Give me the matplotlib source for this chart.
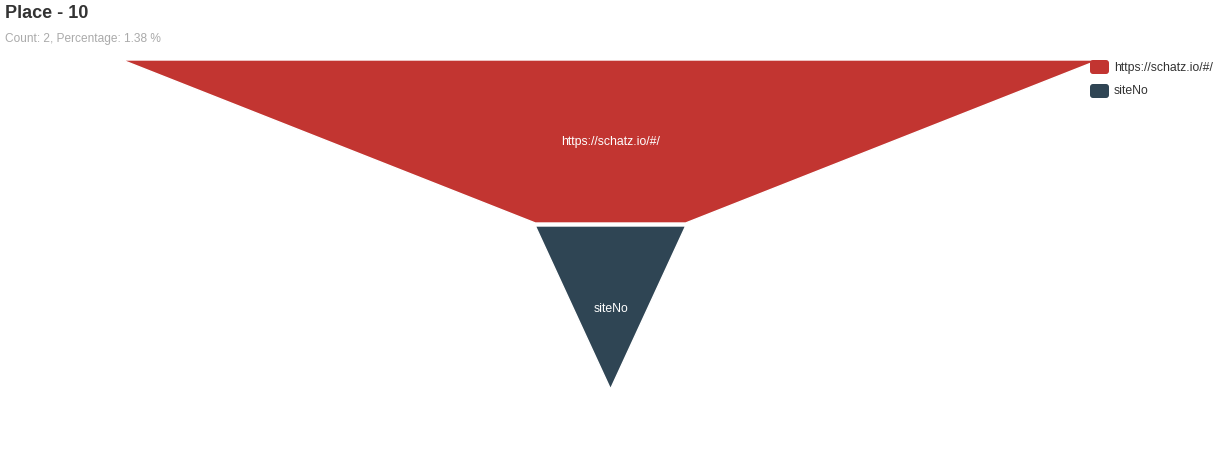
import matplotlib
matplotlib.use("Agg")
import matplotlib.pyplot as plt
from matplotlib.patches import Polygon, FancyBboxPatch

plt.rcParams['font.family'] = ['Liberation Sans', 'DejaVu Sans']

# data
names = ["https://schatz.io/#/", "siteNo"]
values = [13, 2]
colors = ["#c23531", "#2f4554"]
title = "Place - 10"
subtitle = "Count: 2, Percentage: 1.38 %"

W, H = 1221, 450
fig = plt.figure(figsize=(W / 100, H / 100), dpi=100)
ax = fig.add_axes([0, 0, 1, 1])
ax.set_xlim(0, W)
ax.set_ylim(H, 0)
ax.axis("off")

# funnel layout (pixel space, echarts-like)
cx = W / 2
top, bottom = 60, 389
max_w = 0.8 * W
gap = 3
item_h = (bottom - top - gap * (len(values) - 1)) / len(values)
vmax = max(values)

def width_of(i):
    if i >= len(values):
        return 0.0
    return values[i] / vmax * max_w

y = top
for i, (name, val, col) in enumerate(zip(names, values, colors)):
    w0 = width_of(i)
    w1 = width_of(i + 1)
    pts = [(cx - w0 / 2, y), (cx + w0 / 2, y),
           (cx + w1 / 2, y + item_h), (cx - w1 / 2, y + item_h)]
    ax.add_patch(Polygon(pts, closed=True, facecolor=col, edgecolor="white",
                         linewidth=1, zorder=1))
    ax.text(cx, y + item_h / 2 + 1, name, color="white", fontsize=8.8,
            ha="center", va="center")
    y += item_h + gap

# title
ax.text(5, 14, title, fontsize=13, fontweight="bold", color="#333333",
        ha="left", va="center")
ax.text(5, 39, subtitle, fontsize=8.6, color="#aaaaaa", ha="left", va="center")

# legend
lx, ly = 1090, 60
for i, (name, col) in enumerate(zip(names, colors)):
    yy = ly + i * 24
    ax.add_patch(FancyBboxPatch((lx + 2, yy + 2), 15, 10,
                                boxstyle="round,pad=2,rounding_size=3",
                                facecolor=col, edgecolor="none", zorder=3))
    ax.text(lx + 24, yy + 7.5, name, fontsize=8.8, color="#333333",
            ha="left", va="center", zorder=3)

fig.savefig("out.png", dpi=100)
